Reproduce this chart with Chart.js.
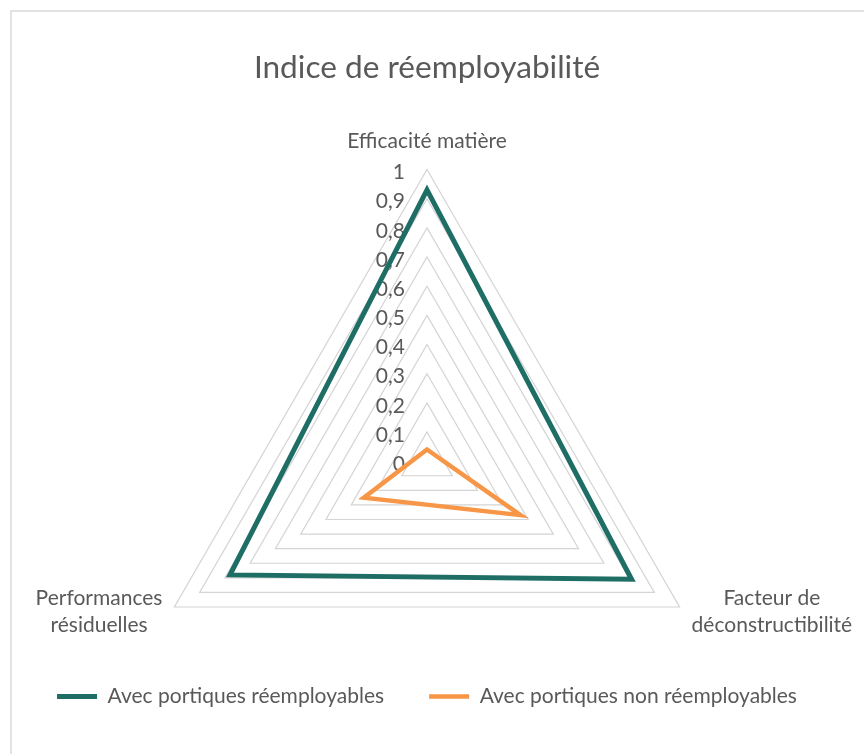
<!DOCTYPE html>
<html>
<head>
<meta charset="utf-8">
<title>Indice de réemployabilité</title>
<script src="https://cdn.jsdelivr.net/npm/chart.js@4.4.1/dist/chart.umd.min.js"></script>
<style>
    html, body { margin: 0; padding: 0; background: #fff; }
    #cadre { position: absolute; left: 10px; top: 10px; width: 900px; height: 800px; border: 2px solid #e2e2e2; }
    #radar { position: absolute; left: 0; top: 0; }
</style>
</head>
<body>
<div id="cadre"></div>
<canvas id="radar" width="864" height="754"></canvas>
<script>
// Données
const criteres = [
    "Efficacité matière",
    ["Facteur de", "déconstructibilité"],
    ["Performances", "résiduelles"]
];
const avecReemployables = [0.93, 0.81, 0.78];
const avecNonReemployables = [0.04, 0.37, 0.25];
const graduationMin = 0;
const graduationMax = 1;
const graduationPas = 0.1;

const couleurTexte = "#595959";
const police = "Lato, 'Open Sans', sans-serif";
const tailleTexte = 21;
const espaceLibellesBas = 34; // place sous le triangle pour les libellés du bas

// Graduations 0 ... 1 à gauche de l'axe vertical
const graduationsPlugin = {
    id: "graduations",
    beforeDatasetsDraw(chart) {
        const r = chart.scales.r;
        const ctx = chart.ctx;
        ctx.save();
        ctx.font = tailleTexte + "px " + police;
        ctx.fillStyle = couleurTexte;
        ctx.textAlign = "right";
        ctx.textBaseline = "middle";
        r.ticks.forEach(t => {
            const d = r.getDistanceFromCenterForValue(t.value);
            ctx.fillText(t.label, r.xCenter - 22, r.yCenter - d + 3);
        });
        ctx.restore();
    }
};

// Libellés des axes (placés comme dans Excel)
const libellesPlugin = {
    id: "libellesAxes",
    afterDraw(chart) {
        const r = chart.scales.r;
        const ctx = chart.ctx;
        ctx.save();
        ctx.font = tailleTexte + "px " + police;
        ctx.fillStyle = couleurTexte;
        ctx.textAlign = "center";
        ctx.textBaseline = "middle";
        chart.data.labels.forEach((lab, i) => {
            const lignes = [].concat(lab);
            const p = r.getPointPosition(i, r.drawingArea);
            const larg = Math.max(...lignes.map(l => ctx.measureText(l).width));
            let x = p.x;
            let y;
            if (i === 0) {
                y = p.y - 28;
            } else {
                x = p.x + (p.x > r.xCenter ? 1 : -1) * (larg / 2 + 12);
                y = p.y - 9;
            }
            lignes.forEach((l, k) => ctx.fillText(l, x, y + k * 27));
        });
        ctx.restore();
    }
};

const ctx = document.getElementById("radar").getContext("2d");

let chartRadar = new Chart(ctx, {
    type: "radar",
    data: {
        labels: criteres,
        datasets: [
            {
                label: "Avec portiques réemployables",
                data: avecReemployables,
                borderColor: "#1E6E65",
                backgroundColor: "#1E6E65",
                borderWidth: 5,
                fill: false,
                pointRadius: 0,
                pointHoverRadius: 0
            },
            {
                label: "Avec portiques non réemployables",
                data: avecNonReemployables,
                borderColor: "#F79646",
                backgroundColor: "#F79646",
                borderWidth: 4.5,
                fill: false,
                pointRadius: 0,
                pointHoverRadius: 0
            }
        ]
    },
    options: {
        responsive: false,
        animation: false,
        locale: "fr-FR",
        layout: { padding: { left: 0, right: 10, top: 0, bottom: 37 } },
        scales: {
            r: {
                min: graduationMin,
                max: graduationMax,
                angleLines: { display: false },
                grid: { color: "#d4d4d4", lineWidth: 1.2 },
                pointLabels: { display: false },
                ticks: {
                    display: false,
                    stepSize: graduationPas,
                    callback: v => v.toLocaleString("fr-FR")
                },
                // un triangle n'occupe que 1,5 rayon en hauteur : on cale le centre en conséquence
                afterSetDimensions: function (scale) {
                    const rayon = Math.min(scale.width / 2, (scale.height - espaceLibellesBas) / 1.5);
                    scale.drawingArea = rayon;
                    scale.yCenter = scale.top + rayon;
                }
            }
        },
        plugins: {
            title: {
                display: true,
                text: "Indice de réemployabilité",
                color: couleurTexte,
                font: { family: police, size: 31.6, weight: "normal" },
                padding: { top: 49, bottom: 82.6 }
            },
            legend: {
                position: "bottom",
                labels: {
                    color: couleurTexte,
                    font: { family: police, size: tailleTexte },
                    usePointStyle: true,
                    pointStyle: "line",
                    pointStyleWidth: 40,
                    padding: 45
                }
            },
            tooltip: { enabled: false }
        }
    },
    plugins: [graduationsPlugin, libellesPlugin]
});
</script>
</body>
</html>
